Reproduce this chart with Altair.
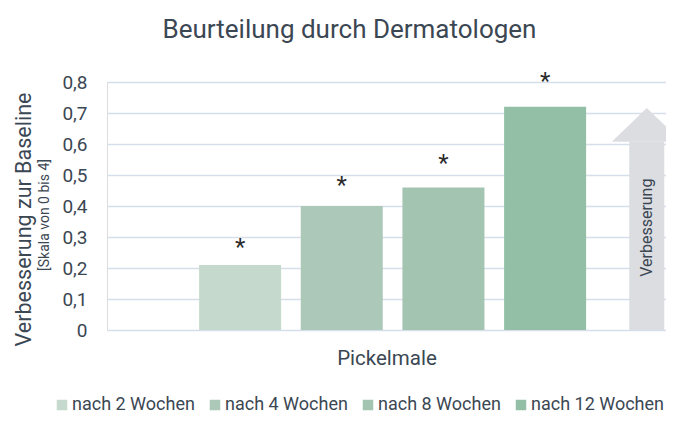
import altair as alt
import pandas as pd

# ---- data ----
serien = ["nach 2 Wochen", "nach 4 Wochen", "nach 8 Wochen", "nach 12 Wochen"]
werte = [0.21, 0.40, 0.46, 0.72]
slot = [1, 2, 3, 4]                       # order of bars in the group
stern_hoehe = [0.282, 0.481, 0.552, 0.815]  # height of significance asterisks
farben = ["#c6d9cd", "#abc8b8", "#a3c4b1", "#94bfa7"]

pfeil_slot = [5]
pfeil_basis = [0.607]      # base of arrow head
pfeil_text_y = [0.33]
pfeil_text = ["Verbesserung"]

y_ticks = [0, 0.1, 0.2, 0.3, 0.4, 0.5, 0.6, 0.7, 0.8]

TXT = "#3b4753"
FONT = "Roboto"

df = pd.DataFrame({"serie": serien, "wert": werte, "slot": slot, "stern": stern_hoehe,
                   "sym": ["*"] * 4})
arrow = pd.DataFrame({"slot": pfeil_slot, "basis": pfeil_basis, "ty": pfeil_text_y,
                      "txt": pfeil_text, "null": [0]})

xscale = alt.Scale(domain=[-0.26, 5.14], nice=False, zero=False)
yscale = alt.Scale(domain=[0, 0.8], nice=False)

x_axis = alt.Axis(title="Pickelmale", labels=False, ticks=False, domain=False,
                  grid=False, titleFontSize=20.5, titleFont=FONT, titleColor=TXT,
                  titleFontWeight="normal", titlePadding=18)

y_axis = alt.Axis(values=y_ticks, title="Verbesserung zur Baseline",
                  labelExpr="datum.value == 0 ? '0' : replace(format(datum.value, '.1f'), '.', ',')",
                  labelFontSize=19, labelFont=FONT, labelColor=TXT, labelPadding=20,
                  labelOverlap=False,
                  ticks=False, domain=False, gridColor="#d5dfe9", gridWidth=1.3,
                  titleFontSize=21.5, titleFont=FONT, titleColor=TXT, titleFontWeight="normal",
                  titlePadding=26, titleY=137)


def X(field):
    return alt.X(field, scale=xscale, axis=x_axis)


def Y(field):
    return alt.Y(field, scale=yscale, axis=y_axis)


bars = alt.Chart(df).mark_bar(width=82).encode(
    x=X("slot:Q"),
    y=Y("wert:Q"),
    color=alt.Color("serie:N", scale=alt.Scale(domain=serien, range=farben),
                    sort=serien,
                    legend=alt.Legend(title=None, orient="none", direction="horizontal",
                                      columns=4, legendX=-54, legendY=314,
                                      symbolType="square", symbolSize=110,
                                      symbolStrokeWidth=0, labelFontSize=18,
                                      labelFont=FONT, labelColor=TXT, labelOffset=1,
                                      columnPadding=11)),
)

sterne = alt.Chart(df).mark_text(fontSize=24, font=FONT, color="#2b2b2b",
                                 baseline="alphabetic", dy=12).encode(
    x=X("slot:Q"), y=Y("stern:Q"), text="sym:N")

schaft = alt.Chart(arrow).mark_bar(width=35, color="#dcdde1", clip=True).encode(
    x=X("slot:Q"), y=Y("null:Q"), y2="basis:Q")

spitze = alt.Chart(arrow).mark_point(
    shape="M -1 0 L 1 0 L 0 -0.97 Z", size=4900, filled=True, opacity=1,
    color="#dcdde1", clip=True).encode(x=X("slot:Q"), y=Y("basis:Q"))

pfeil_label = alt.Chart(arrow).mark_text(angle=270, fontSize=16, font=FONT, color=TXT,
                                         baseline="middle", align="center").encode(
    x=X("slot:Q"), y=Y("ty:Q"), text="txt:N")

unter = alt.Chart(arrow).mark_text(angle=270, fontSize=14, font=FONT, color=TXT,
                                   baseline="middle", align="center").encode(
    x=alt.value(-62), y=alt.value(133), text=alt.datum("[Skala von 0 bis 4]"))

chart = alt.layer(bars, schaft, spitze, pfeil_label, sterne, unter).properties(
    width=559, height=248,
    autosize=alt.AutoSizeParams(type="none"),
    padding={"left": 99, "top": 74, "right": 0, "bottom": 83},
    title=alt.Title("Beurteilung durch Dermatologen", fontSize=26, font=FONT, color=TXT,
                    fontWeight="normal", anchor="middle", dx=-37, offset=27),
).configure_view(stroke=None, fill="#f7f8f8").configure(background="white")

chart.save("out.html", embed_options={"renderer": "svg", "actions": False})
